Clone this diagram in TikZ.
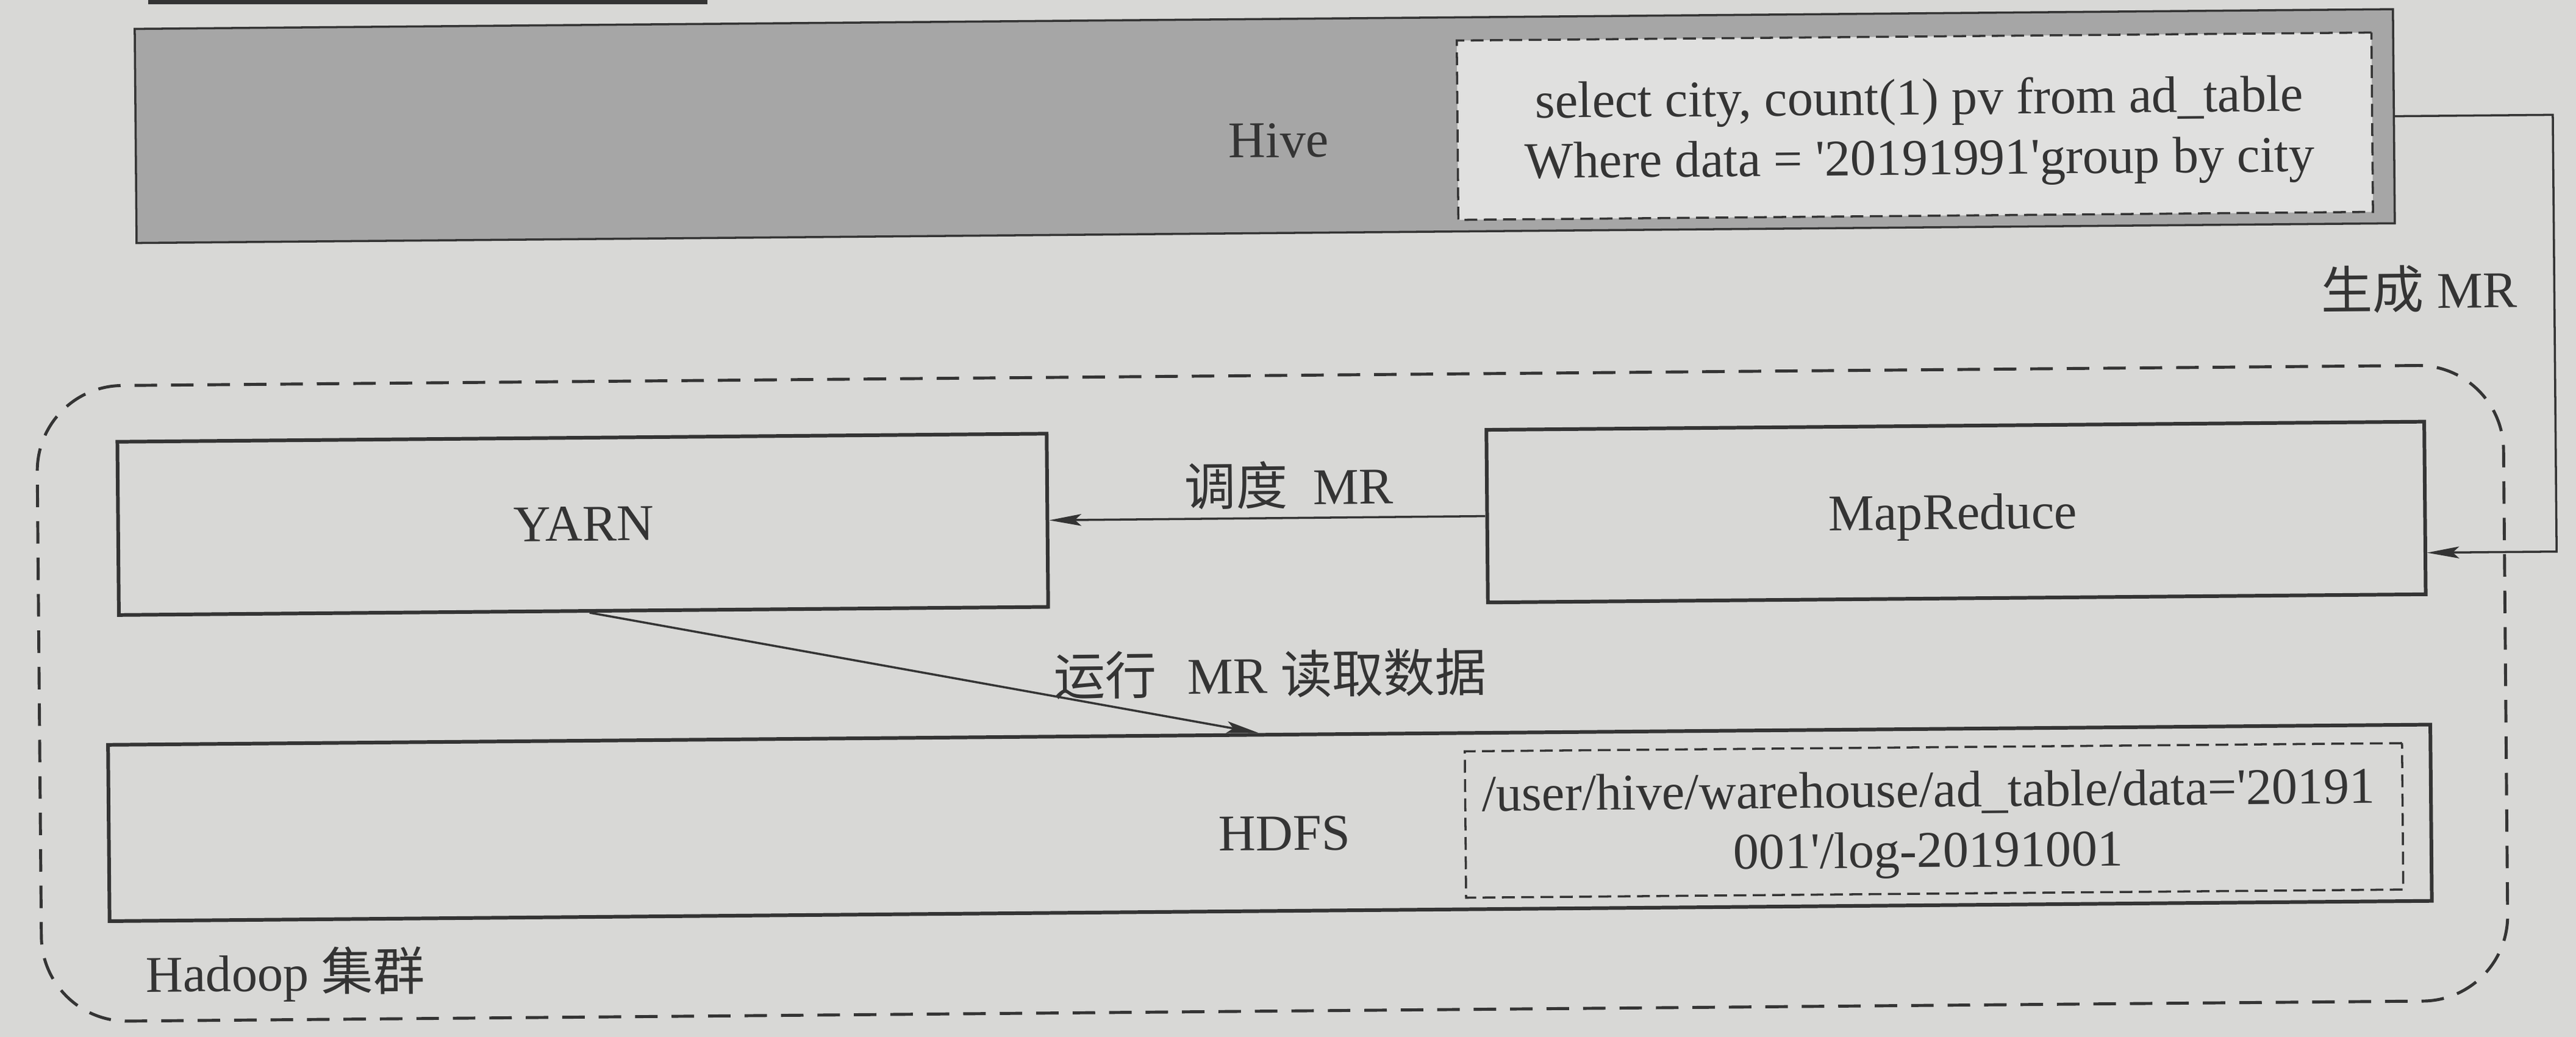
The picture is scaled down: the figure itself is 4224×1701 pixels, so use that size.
\documentclass[tikz,border=0pt]{standalone}
\usepackage{fontspec}
\setmainfont{Liberation Serif}
\newfontfamily\cjk{Noto Sans CJK SC}
\usetikzlibrary{arrows.meta}
\definecolor{paper}{RGB}{216,216,214}
\definecolor{hivegray}{RGB}{166,166,166}
\definecolor{sqlfill}{RGB}{224,224,223}
\definecolor{ink}{RGB}{52,52,52}
\begin{document}
\begin{tikzpicture}[x=0.01cm,y=-0.01cm,
  solidbox/.style={draw=ink, line width=1.7pt, inner sep=0pt, rectangle},
  hivebox/.style={draw=ink, line width=1pt, fill=hivegray, inner sep=0pt, rectangle},
  dashbox/.style={draw=ink, line width=1pt, dash pattern=on 6pt off 3pt, inner sep=0pt, rectangle},
  cluster/.style={draw=ink, line width=1.4pt, dash pattern=on 10.5pt off 6.5pt, rounded corners=1.4cm, inner sep=0pt, rectangle},
  lbl/.style={font=\fontsize{24}{28}\selectfont, text=ink, inner sep=0pt},
  conn/.style={draw=ink, line width=1pt},
  arr/.style={conn, -{Stealth[length=15pt,width=5.5pt,inset=3pt]}}]
\fill[paper] (0,0) rectangle (4224,1701);
\useasboundingbox (0,0) rectangle (4224,1701);
\fill[ink] (243,0) rectangle (1160,7);
\begin{scope}[rotate around={0.5:(2112,850)}, transform shape]
  % Hadoop cluster
  \node[cluster, minimum width=40.42cm, minimum height=10.42cm] (hadoop) at (2084,1137) {};
  \node[lbl, anchor=base west] (hadoopt) at (232,1611) {Hadoop {\cjk 集群}};
  % Hive
  \node[hivebox, minimum width=37.01cm, minimum height=3.51cm] (hive) at (2079.5,206.5) {};
  \node[dashbox, fill=sqlfill, minimum width=14.99cm, minimum height=2.94cm] (sql) at (3145.5,216) {};
  \node[lbl, anchor=base] (hivet) at (2102,258) {Hive};
  \node[lbl, anchor=base] (sql1) at (3153,197) {select city, count(1) pv from ad\_table};
  \node[lbl, anchor=base] (sql2) at (3153,296) {Where data = \textquotesingle 20191991\textquotesingle group by city};
  % YARN, MapReduce
  \node[solidbox, minimum width=15.23cm, minimum height=2.84cm] (yarn) at (955.5,850) {};
  \node[lbl, anchor=base] (yarnt) at (957,877) {YARN};
  \node[solidbox, minimum width=15.37cm, minimum height=2.83cm] (mr) at (3207.5,849.5) {};
  \node[lbl, anchor=base] (mrt) at (3202,878) {MapReduce};
  % HDFS
  \node[solidbox, minimum width=38.06cm, minimum height=2.89cm] (hdfs) at (2078,1349.5) {};
  \node[lbl, anchor=base] (hdfst) at (2102,1395) {HDFS};
  \node[dashbox, minimum width=15.36cm, minimum height=2.40cm] (path) at (3167,1355) {};
  \node[lbl, anchor=base] (path1) at (3158,1333) {/user/hive/warehouse/ad\_table/data=\textquotesingle 20191};
  \node[lbl, anchor=base] (path2) at (3157,1432) {001\textquotesingle/log-20191001};
  % connectors
  \draw[arr] (mr.west) -- (yarn.east);
  \node[lbl, anchor=base] (ddlbl) at (2114,828) {{\cjk 调度}\hspace{0.5em}MR};
  \draw[arr] ([xshift=0.1cm]yarn.south) -- ([xshift=-0.17cm]hdfs.north);
  \node[lbl, anchor=base west] (yxlbl) at (1725,1137) {{\cjk 运行}\hspace{0.6em}MR {\cjk 读取数据}};
  \coordinate (r1) at (4192,206.5);
  \coordinate (r2) at (4192,923);
  \draw[arr] (hive.east) -- (r1) -- (r2) -- (r2 -| mr.east);
  \node[lbl, anchor=base] (sclbl) at (3970,522) {{\cjk 生成} MR};
\end{scope}
\end{tikzpicture}
\end{document}
